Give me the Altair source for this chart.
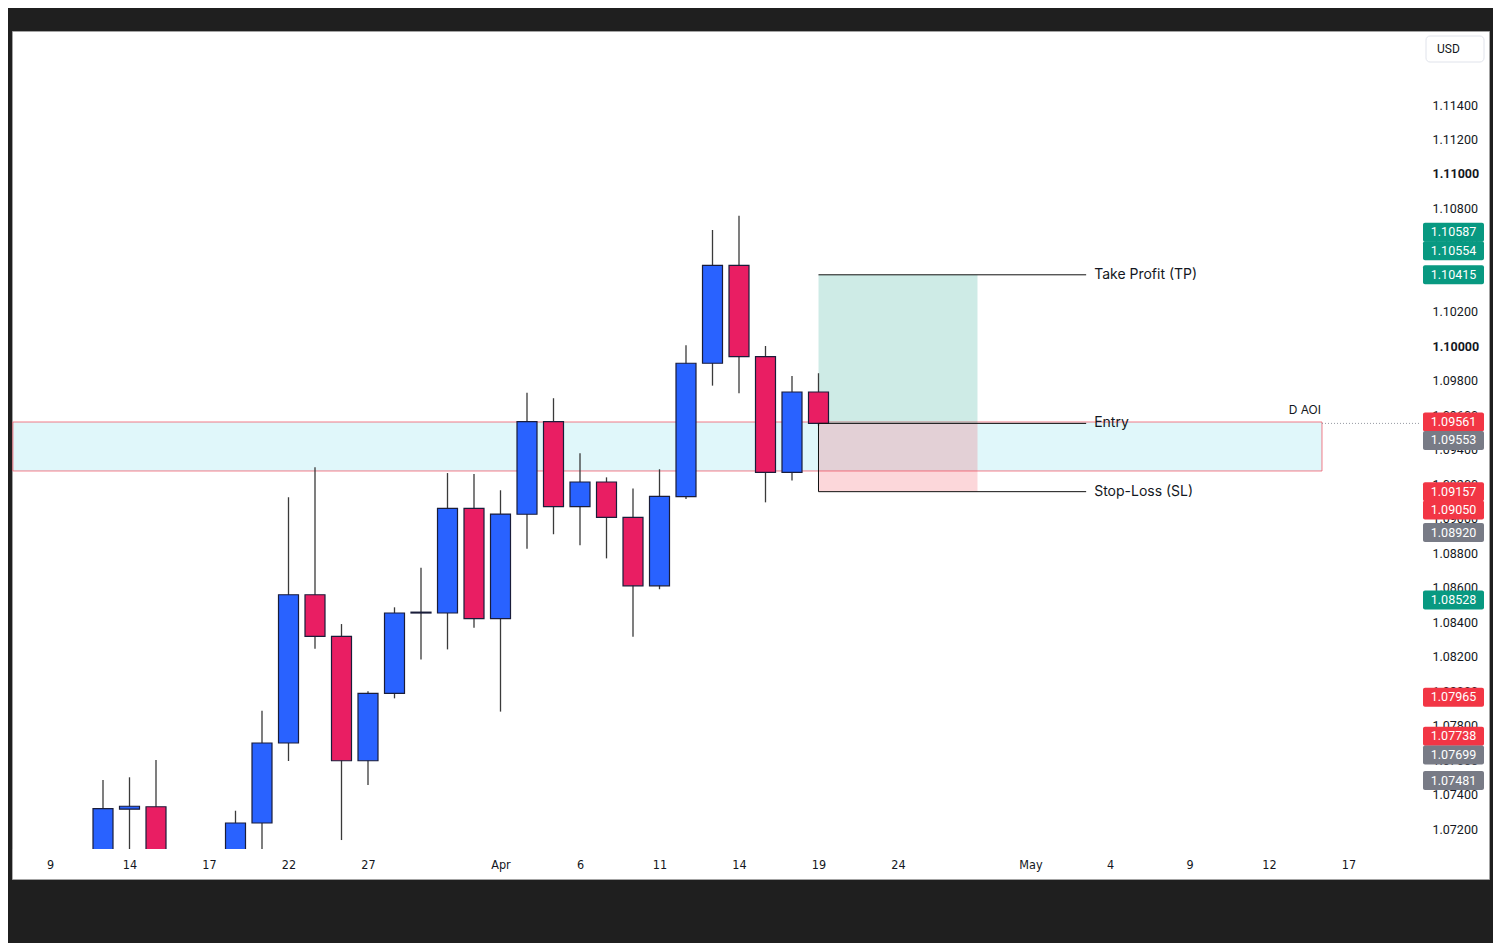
import altair as alt
import pandas as pd

# ---------------- data ----------------
# trading-day index: 0 = Mar 9 (weekdays only)
day_idx = list(range(2, 30))
opens = [1.0650, 1.07315, 1.07329, 1.0577, 1.0610, 1.0672, 1.07235, 1.07699, 1.08559, 1.08318,
         1.07596, 1.07987, 1.08453, 1.08453, 1.09060, 1.08420, 1.09026, 1.09563, 1.09070, 1.09213,
         1.09008, 1.08611, 1.09128, 1.09902, 1.10470, 1.09940, 1.09269, 1.09735]
highs = [1.07484, 1.07500, 1.07600, 1.0630, 1.0680, 1.07306, 1.07886, 1.09124, 1.09298, 1.08389,
         1.07999, 1.08486, 1.08716, 1.09265, 1.09259, 1.09165, 1.09731, 1.09699, 1.09380, 1.09240,
         1.09176, 1.09287, 1.10006, 1.10675, 1.10758, 1.10002, 1.09828, 1.09844]
lows = [1.0640, 1.0660, 1.0516, 1.0550, 1.0600, 1.0655, 1.0700, 1.07594, 1.08246, 1.07136,
        1.07455, 1.07958, 1.08184, 1.08242, 1.08368, 1.07881, 1.08826, 1.08910, 1.08846, 1.08770,
        1.08316, 1.08591, 1.09114, 1.09772, 1.09728, 1.09095, 1.09221, 1.09540]
closes = [1.07318, 1.07332, 1.0577, 1.0610, 1.0670, 1.07235, 1.07699, 1.08559, 1.08318, 1.07596,
          1.07987, 1.08453, 1.08458, 1.09060, 1.08420, 1.09027, 1.09563, 1.09070, 1.09213, 1.09008,
          1.08611, 1.09130, 1.09902, 1.10470, 1.09940, 1.09269, 1.09735, 1.09553]

tick_idx = [0, 3, 6, 9, 12, 17, 20, 23, 26, 29, 32, 37, 40, 43, 46, 49]
tick_text = ["9", "14", "17", "22", "27", "Apr", "6", "11", "14", "19", "24", "May", "4", "9", "12", "17"]

price_ticks = [1.072, 1.074, 1.076, 1.078, 1.080, 1.082, 1.084, 1.086, 1.088, 1.090, 1.092,
               1.094, 1.096, 1.098, 1.100, 1.102, 1.104, 1.106, 1.108, 1.110, 1.112, 1.114]

aoi_top, aoi_bottom = 1.09561, 1.09277
aoi_end = 48
pos_start, pos_box_end, pos_line_end = 29, 35, 39.1
tp, entry, sl = 1.10415, 1.09553, 1.09157
last_price = 1.09553

tag_prices = [1.10587, 1.10554, 1.10415, 1.09561, 1.09553, 1.09157, 1.09050, 1.08920,
              1.08528, 1.07965, 1.07738, 1.07699, 1.07481]
tag_kind = ["up", "up", "up", "down", "last", "down", "down", "last",
            "up", "down", "down", "last", "last"]

# ---------------- layout / style ----------------
X_DOMAIN = [-1.434, 54.302]
Y_DOMAIN = [1.0691, 1.118293]
CANDLE_AREA_RIGHT = 51.7
CANDLE_AREA_BOTTOM = 1.07084
AOI_START = -1.40
TAG_NUDGE = {1.10587: -13, 1.09553: 17, 1.07699: 12}
TAG_HALF = 0.000551
TAG_COLORS = {"up": "#089981", "down": "#f23645", "last": "#787b86"}
BLUE, RED = "#2962ff", "#e91e63"
INK = "#131722"

xs = alt.Scale(domain=X_DOMAIN, nice=False, zero=False, padding=0)
ys = alt.Scale(domain=Y_DOMAIN, nice=False, zero=False, padding=0)

label_expr = ("[" + ",".join("'%s'" % t for t in tick_text) + "][indexof(["
              + ",".join(str(v) for v in tick_idx) + "], datum.value)]")

xaxis = alt.Axis(values=tick_idx, labelExpr=label_expr, orient="bottom", offset=-30,
                 domain=False, ticks=False, tickSize=0, grid=False, labelPadding=9,
                 labelFont="DejaVu Sans Condensed", labelFontSize=12.5, labelColor=INK,
                 labelFlush=False, labelOverlap=False, title=None, zindex=1)
yaxis = alt.Axis(values=price_ticks, format=".5f", orient="right", offset=-69,
                 domain=False, ticks=False, tickSize=0, grid=False, labelPadding=12,
                 labelFont="Roboto", labelFontSize=12.5, labelColor=INK,
                 labelFontWeight=alt.condition("datum.value == 1.1 || datum.value == 1.11",
                                               alt.value("bold"), alt.value("normal")),
                 labelFlush=False, labelOverlap=False, title=None, zindex=0)


def X(f):
    return alt.X(f, type="quantitative", scale=xs, axis=xaxis)


def Y(f):
    return alt.Y(f, type="quantitative", scale=ys, axis=yaxis)


candles = pd.DataFrame({"i": day_idx, "o": opens, "h": highs, "l": lows, "c": closes})

# AOI zone
aoi = alt.Chart(pd.DataFrame({"x": [AOI_START], "x2": [aoi_end], "y": [aoi_bottom], "y2": [aoi_top]})).mark_rect(
    fill="#00bcd4", fillOpacity=0.12, stroke="#f05a6a", strokeOpacity=0.8, strokeWidth=1
).encode(x=X("x"), x2="x2:Q", y=Y("y"), y2="y2:Q")

aoi_text = alt.Chart(pd.DataFrame({"x": [aoi_end], "y": [aoi_top], "t": ["D AOI"]})).mark_text(
    align="right", baseline="bottom", dy=-5, dx=-1, font="Inter", fontSize=12, color=INK
).encode(x=X("x"), y=Y("y"), text="t:N")

# long position tool fills
pos_df = pd.DataFrame({"x": [pos_start, pos_start], "x2": [pos_box_end, pos_box_end],
                       "y": [entry, entry], "y2": [tp, sl], "col": ["#089981", "#f23645"]})
pos_fill = alt.Chart(pos_df).mark_rect(fillOpacity=0.2).encode(
    x=X("x"), x2="x2:Q", y=Y("y"), y2="y2:Q", fill=alt.Fill("col:N", scale=None))

# candles
wicks = alt.Chart(candles).mark_rule(color="#3a3a3a", strokeWidth=1.3, clip=True).encode(
    x=X("i"), y=Y("l"), y2="h:Q")
bodies = alt.Chart(candles).mark_bar(size=20, stroke="#1a1d3a", strokeWidth=1.2, clip=True).encode(
    x=X("i"), y=Y("o"), y2="c:Q",
    color=alt.condition("datum.c >= datum.o", alt.value(BLUE), alt.value(RED)))

# cover the band under the candle area (x-axis strip)
cover = alt.Chart(pd.DataFrame({"x": [AOI_START], "x2": [CANDLE_AREA_RIGHT],
                                "y": [Y_DOMAIN[0]], "y2": [CANDLE_AREA_BOTTOM]})).mark_rect(
    fill="white").encode(x=X("x"), x2="x2:Q", y=Y("y"), y2="y2:Q")

# position lines
lines_df = pd.DataFrame({"x": [pos_start] * 3, "x2": [pos_line_end] * 3, "y": [tp, entry, sl],
                         "t": ["Take Profit (TP)", "Entry", "Stop-Loss (SL)"]})
pos_lines = alt.Chart(lines_df).mark_rule(color="#111111", strokeWidth=1).encode(
    x=X("x"), x2="x2:Q", y=Y("y"))
pos_vert = alt.Chart(pd.DataFrame({"x": [pos_start], "y": [entry], "y2": [sl]})).mark_rule(
    color="#111111", strokeWidth=1).encode(x=X("x"), y=Y("y"), y2="y2:Q")
pos_text = alt.Chart(lines_df).mark_text(align="left", baseline="middle", dx=8, font="Inter",
                                         fontSize=14, color=INK).encode(
    x=X("x2"), y=Y("y"), text="t:N")

price_line = alt.Chart(pd.DataFrame({"x": [aoi_end], "x2": [CANDLE_AREA_RIGHT], "y": [last_price]})).mark_rule(
    color="#9598a1", strokeWidth=1, strokeDash=[1, 2]).encode(x=X("x"), x2="x2:Q", y=Y("y"))

# price tags on the right scale
tags = pd.DataFrame({"p": tag_prices,
                     "col": [TAG_COLORS[k] for k in tag_kind],
                     "t": ["%.5f" % p for p in tag_prices],
                     "n": [TAG_NUDGE.get(p, 0) for p in tag_prices]})
tags["lo"] = tags["p"] - TAG_HALF
tags["hi"] = tags["p"] + TAG_HALF
tag_layers = []
for nudge in sorted(set(tags["n"])):
    sub = tags[tags["n"] == nudge]
    tag_layers.append(
        alt.Chart(sub).mark_rect(yOffset=int(nudge), y2Offset=int(nudge), cornerRadius=2).encode(
            x=alt.value(1411), x2=alt.value(1472),
            y=Y("lo"), y2="hi:Q", fill=alt.Fill("col:N", scale=None)))
    tag_layers.append(
        alt.Chart(sub).mark_text(dy=int(nudge), align="center", baseline="middle", font="Roboto",
                                 fontSize=12.5, color="white").encode(
            x=alt.value(1441.5), y=Y("p"), text="t:N"))

usd_box = alt.Chart(pd.DataFrame({"t": ["USD"]})).mark_rect(
    fill="white", stroke="#e0e3eb", strokeWidth=1, cornerRadius=4).encode(
    x=alt.value(1414), x2=alt.value(1472), y=alt.value(5), y2=alt.value(31))
usd_text = alt.Chart(pd.DataFrame({"t": ["USD"]})).mark_text(
    align="left", baseline="middle", font="Roboto", fontSize=12, color=INK).encode(
    x=alt.value(1425), y=alt.value(18), text="t:N")

chart = alt.layer(
    aoi, pos_fill, wicks, bodies, cover, pos_lines, pos_vert, pos_text, price_line, aoi_text,
    *tag_layers, usd_box, usd_text
).properties(
    width=1477, height=848, background="#1f1f1f",
    padding={"left": 4, "top": 23, "right": 4, "bottom": 64},
    autosize=alt.AutoSizeParams(type="none")
).configure_view(fill="white", stroke="#a3a3a3", strokeWidth=1)

chart.save("out.html", embed_options={"renderer": "svg", "actions": False})
